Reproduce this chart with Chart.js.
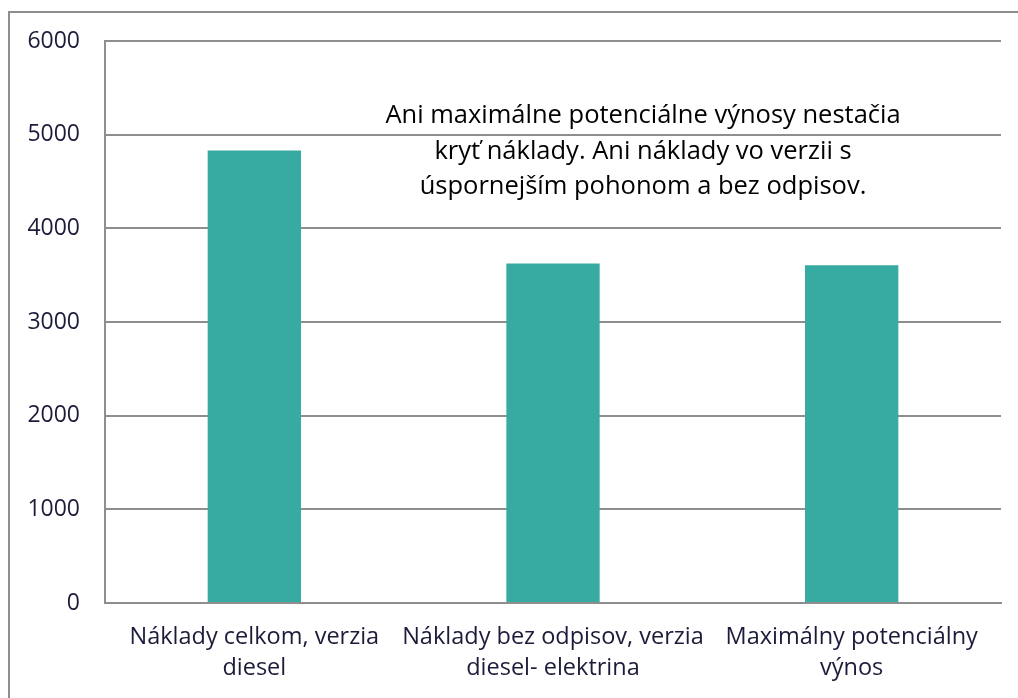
<!DOCTYPE html>
<html>
<head>
<meta charset="utf-8">
<script src="https://cdn.jsdelivr.net/npm/chart.js@4/dist/chart.umd.min.js"></script>
<style>
  html, body { margin: 0; padding: 0; background: #fff; overflow: hidden; }
  #wrap { position: relative; width: 1018px; height: 698px; }
  #frame { position: absolute; left: 8px; top: 11px; width: 1200px; height: 900px; border: 2px solid #8e8e8e; }
  canvas { position: absolute; left: 0; top: 0; }
</style>
</head>
<body>
<div id="wrap">
  <div id="frame"></div>
  <canvas id="chart" width="1018" height="698"></canvas>
</div>
<script>
const categories = [
  ['Náklady celkom, verzia', 'diesel'],
  ['Náklady bez odpisov, verzia', 'diesel- elektrina'],
  ['Maximálny potenciálny', 'výnos']
];
const values = [4830, 3625, 3605];
const yTicks = [0, 1000, 2000, 3000, 4000, 5000, 6000];
const noteLines = [
  'Ani maximálne potenciálne výnosy nestačia',
  'kryť náklady. Ani náklady vo verzii s',
  'úspornejším pohonom a bez odpisov.'
];

const gridColor = '#8e8e8e';
const labelColor = '#1c1c3a';
const fontFamily = '"Open Sans", "Noto Sans", sans-serif';

// poznámka v grafe
const notePlugin = {
  id: 'note',
  afterDraw(chart) {
    const c = chart.ctx;
    c.save();
    c.font = '25.5px ' + fontFamily;
    c.fillStyle = '#000';
    c.textAlign = 'center';
    c.textBaseline = 'alphabetic';
    const cx = 643;
    const base = [123, 159, 194];
    noteLines.forEach((t, i) => c.fillText(t, cx, base[i]));
    c.restore();
  }
};

const ctx = document.getElementById('chart');
const myChart = new Chart(ctx, {
  type: 'bar',
  data: {
    labels: categories,
    datasets: [{
      data: values,
      backgroundColor: 'rgb(55, 171, 162)',
      borderWidth: 0,
      barPercentage: 0.3125,
      categoryPercentage: 1.0
    }]
  },
  options: {
    responsive: false,
    animation: false,
    layout: { padding: { left: 0, right: 17, top: 41, bottom: 0 } },
    plugins: {
      legend: { display: false },
      tooltip: { enabled: false }
    },
    scales: {
      x: {
        grid: { display: false, drawTicks: false },
        border: { display: true, color: gridColor, width: 2 },
        ticks: {
          color: labelColor,
          font: { family: fontFamily, size: 23.5, lineHeight: 1.3 },
          padding: 19,
          maxRotation: 0,
          autoSkip: false
        },
        afterFit(scale) { scale.height = 95; }
      },
      y: {
        min: 0,
        max: 6000,
        afterBuildTicks(scale) { scale.ticks = yTicks.map(v => ({ value: v })); },
        grid: { color: gridColor, lineWidth: 2, drawTicks: false },
        border: { display: true, color: gridColor, width: 2 },
        ticks: {
          color: labelColor,
          font: { family: fontFamily, size: 23 },
          padding: 25,
          callback: v => String(v)
        },
        afterFit(scale) { scale.width = 105; }
      }
    }
  },
  plugins: [notePlugin]
});
</script>
</body>
</html>
